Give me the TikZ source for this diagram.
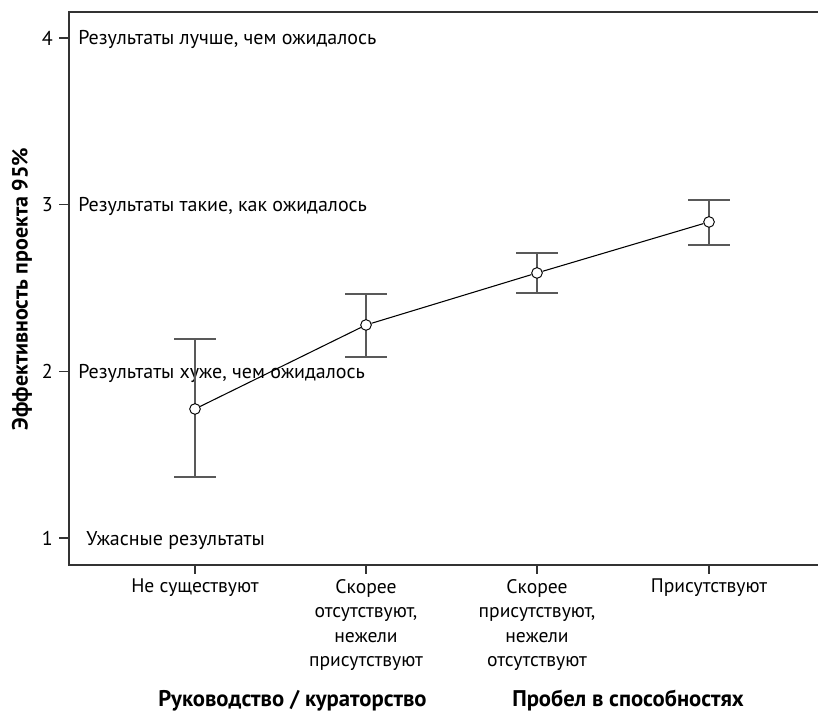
\documentclass[tikz,border=0pt]{standalone}
\usepackage{fontspec}
\setmainfont{PT Sans}
\usetikzlibrary{positioning}

\tikzset{
	axisline/.style={draw=black!80, line width=1.1pt},
	errbar/.style={draw=black!65, line width=1.3pt},
	meanline/.style={draw=black, line width=0.8pt},
	meanpt/.style={circle, draw=black, fill=white, inner sep=0pt, minimum size=8pt, line width=0.7pt},
	catlabel/.style={anchor=north, align=center, inner sep=0pt, font=\fontsize{14.7}{18.4}\selectfont},
	grouplabel/.style={anchor=base west, inner sep=0pt, font=\fontsize{17}{20}\selectfont\bfseries}
}

\begin{document}
\begin{tikzpicture}[x=0.75pt, y=-0.75pt, font=\fontsize{15}{18}\selectfont]
		\useasboundingbox (0,0) rectangle (818,715);
		\def\yOne{538} % pixel row of value 1
		\def\unitH{166.7} % pixels per unit
		
		% Draw the frame (open on the right)
		\draw[axisline] (818,12) -- (69,12) -- (69,565) -- (818,565);
		
		% Y ticks with numbers and level texts
		\foreach \v/\dx/\txt in {1/86/Ужасные результаты, 2/78/{Результаты хуже, чем ожидалось}, 3/78/{Результаты такие, как ожидалось}, 4/78/{Результаты лучше, чем ожидалось}} {
			\pgfmathsetmacro{\yv}{\yOne - (\v - 1) * \unitH}
			\draw[axisline] (59,\yv) -- (69,\yv);
			\node[anchor=east, inner sep=0pt] (num\v) at (53,\yv) {\v};
			\node[anchor=base west, inner sep=0pt] (lvl\v) at (\dx,\yv+7) {\txt};
		}
		
		% X ticks and category labels
		\foreach \i/\x/\txt in {1/195/Не существуют, 2/366/{Скорее\\отсутствуют,\\нежели\\присутствуют}, 3/537/{Скорее\\присутствуют,\\нежели\\отсутствуют}, 4/709/Присутствуют} {
			\draw[axisline] (\x,565) -- (\x,574);
			\node[catlabel] (cat\i) at (\x,579) {\txt};
		}
		
		% Error bars and means
		\foreach \i/\x/\m/\lo/\hi in {1/195/1.774/1.366/2.194, 2/366/2.278/2.086/2.464, 3/537/2.590/2.470/2.710, 4/709/2.896/2.758/3.028} {
			\pgfmathsetmacro{\ym}{\yOne - (\m - 1) * \unitH}
			\pgfmathsetmacro{\yl}{\yOne - (\lo - 1) * \unitH}
			\pgfmathsetmacro{\yh}{\yOne - (\hi - 1) * \unitH}
			\coordinate (hi\i) at (\x,\yh);
			\coordinate (lo\i) at (\x,\yl);
			\draw[errbar] (lo\i) -- (hi\i);
			\draw[errbar] (\x-21,\yh) -- (\x+21,\yh);
			\draw[errbar] (\x-21,\yl) -- (\x+21,\yl);
			\node[meanpt] (p\i) at (\x,\ym) {};
		}
		
		% Join the means
		\draw[meanline] (p1) -- (p2) -- (p3) -- (p4);
		
		% Axis titles
		\node[rotate=90, font=\fontsize{16.5}{20}\selectfont\bfseries] (ytitle) at (22,289) {Эффективность проекта 95\%};
		\node[grouplabel] (lead) at (158,706) {Руководство / кураторство};
		\node[grouplabel] (gap) at (512,706) {Пробел в способностях};
	\end{tikzpicture}
\end{document}
